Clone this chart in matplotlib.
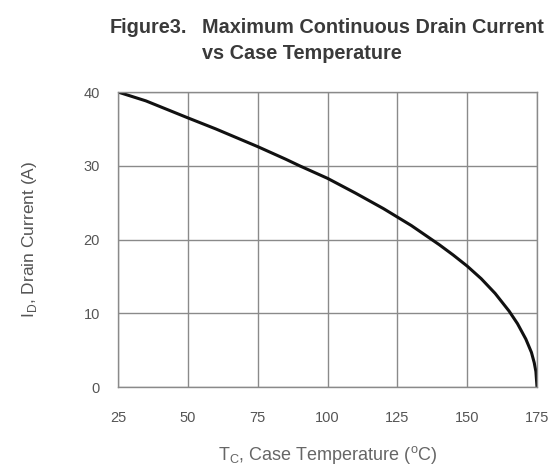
import matplotlib.pyplot as plt

plt.rcParams['font.family'] = ['Liberation Sans', 'DejaVu Sans']

# values
temp = [25, 35, 50, 60, 75, 85, 90, 100, 110, 120, 130, 140, 145, 150,
        155, 160, 165, 168, 171, 173, 174, 174.6, 175]
current = [40, 38.8, 36.5, 35.0, 32.6, 30.9, 30.0, 28.3, 26.3, 24.2, 21.9, 19.3, 17.9, 16.4,
           14.7, 12.7, 10.3, 8.6, 6.5, 4.7, 3.3, 2.1, 0]

xticks = [25, 50, 75, 100, 125, 150, 175]
yticks = [0, 10, 20, 30, 40]

fig = plt.figure(figsize=(5.55, 4.72), dpi=100)
ax = fig.add_axes([0.2126, 0.18, 0.755, 0.625])

ax.plot(temp, current, color='#111111', lw=2.2)

ax.set_xlim(25, 175)
ax.set_ylim(0, 40)
ax.set_xticks(xticks)
ax.set_yticks(yticks)
ax.grid(True, color='#8a8a8a', lw=1.0)
ax.set_axisbelow(True)
for s in ax.spines.values():
    s.set_color('#8a8a8a')
    s.set_linewidth(1.0)
ax.tick_params(axis='both', length=0, labelsize=10.5, labelcolor='#555555')
ax.tick_params(axis='x', pad=17)
ax.tick_params(axis='y', pad=13)

ax.set_xlabel(r'T$_\mathregular{C}$, Case Temperature ($^\mathregular{o}$C)',
              fontsize=13, color='#666666', labelpad=14)
ax.set_ylabel(r'I$_\mathregular{D}$, Drain Current (A)',
              fontsize=12.5, color='#555555', labelpad=32)

fig.text(110 / 555, 1 - 33 / 472, 'Figure3.', fontsize=14.3, fontweight='bold',
         color='#3a3a3a', ha='left', va='baseline')
fig.text(202 / 555, 1 - 33 / 472, 'Maximum Continuous Drain Current',
         fontsize=14.3, fontweight='bold', color='#3a3a3a', ha='left', va='baseline')
fig.text(202 / 555, 1 - 59 / 472, 'vs Case Temperature',
         fontsize=14.3, fontweight='bold', color='#3a3a3a', ha='left', va='baseline')

fig.savefig('out.png', dpi=100)
